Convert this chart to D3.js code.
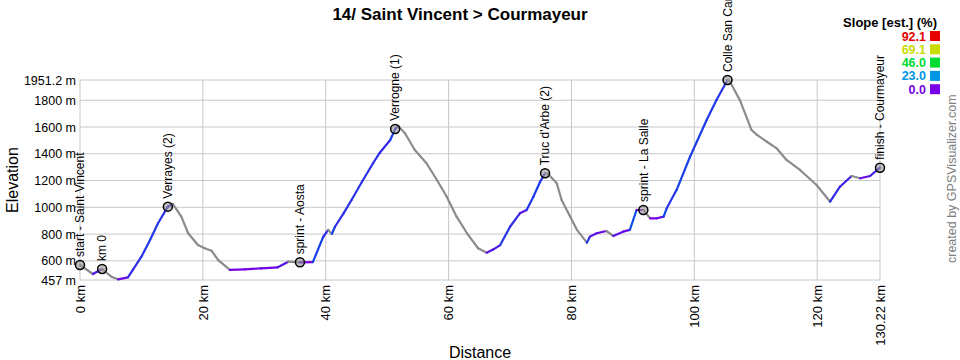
<!DOCTYPE html>
<html>
<head>
<meta charset="utf-8">
<script src="https://cdn.jsdelivr.net/npm/d3@7"></script>
<style>
  body { margin: 0; background: #fff; }
  svg { font-family: "Liberation Sans", Arial, sans-serif; }
</style>
</head>
<body>
<svg width="960" height="360"></svg>
<script>
// profile (km, m)
const distKm = [0, 2.1, 3.6, 5.1, 6.2, 7.8, 8.6, 10.0, 11.4, 12.7, 14.3, 15.1, 16.5, 17.6, 19.2, 20.3, 21.4, 22.5, 24.4, 26.8, 29.5, 32.2, 33.9, 35.8, 37.9, 39.6, 40.4, 41.0, 41.5, 42.9, 44.2, 45.9, 47.7, 48.8, 50.5, 51.3, 51.8, 52.9, 54.5, 56.4, 58.1, 59.7, 61.3, 63.0, 64.8, 66.2, 67.3, 68.4, 70.0, 71.6, 72.7, 73.8, 74.9, 75.7, 76.2, 77.6, 78.4, 79.8, 80.9, 82.5, 83.0, 84.1, 85.7, 86.8, 88.4, 89.5, 90.6, 91.7, 92.8, 93.9, 95.0, 95.5, 97.1, 99.3, 100.4, 102.0, 103.6, 105.4, 105.8, 107.4, 109.3, 110.2, 111.8, 113.4, 115.0, 117.2, 119.9, 122.1, 123.7, 125.6, 127.0, 128.6, 130.22];
const elevM = [569, 502, 539, 482, 462, 477, 532, 631, 756, 881, 1005, 1025, 930, 806, 718, 694, 676, 606, 532, 537, 544, 552, 594, 589, 591, 780, 831, 801, 855, 955, 1055, 1191, 1329, 1408, 1503, 1585, 1608, 1553, 1428, 1329, 1204, 1079, 930, 806, 694, 661, 686, 718, 855, 955, 980, 1079, 1191, 1254, 1249, 1179, 1055, 930, 831, 736, 781, 806, 823, 786, 818, 831, 980, 980, 918, 918, 930, 993, 1129, 1378, 1490, 1652, 1802, 1951.2, 1938, 1802, 1578, 1541, 1490, 1441, 1354, 1279, 1167, 1042, 1154, 1234, 1217, 1234, 1296];

const wpNames = ["start - Saint Vincent", "km 0", "Verrayes (2)", "sprint - Aosta", "Verrogne (1)", "Truc d'Arbe (2)", "sprint - La Salle", "Colle San Carlo", "finish - Courmayeur"];
const wpKm = [0, 3.6, 14.3, 35.8, 51.3, 75.7, 91.7, 105.4, 130.22];
const wpElev = [569, 539, 1005, 589, 1585, 1254, 980, 1951.2, 1296];

const yTicks = [457, 600, 800, 1000, 1200, 1400, 1600, 1800, 1951.2];
const xTicks = [0, 20, 40, 60, 80, 100, 120, 130.22];

const legendValues = ["92.1", "69.1", "46.0", "23.0", "0.0"];
const legendColors = ["#e60000", "#c8dc00", "#00dc32", "#0096e6", "#7800e6"];

const margin = {top: 80, left: 80},
      width = 800,
      height = 200;

const svg = d3.select("svg");
const g = svg.append("g").attr("transform", `translate(${margin.left},${margin.top})`);

const x = d3.scaleLinear().domain([0, 130.22]).range([0, width]);
const y = d3.scaleLinear().domain([457, 1951.2]).range([height, 0]);

// grid
g.selectAll(".hgrid").data(yTicks).enter().append("line")
    .attr("x1", 0).attr("x2", width)
    .attr("y1", d => y(d)).attr("y2", d => y(d))
    .style("stroke", "#c8c8c8").style("stroke-width", 1);

g.selectAll(".vgrid").data(xTicks).enter().append("line")
    .attr("x1", d => x(d)).attr("x2", d => x(d))
    .attr("y1", 0).attr("y2", height)
    .style("stroke", "#c8c8c8").style("stroke-width", 1);

// y labels
g.selectAll(".ylab").data(yTicks).enter().append("text")
    .attr("x", -4)
    .attr("y", d => y(d))
    .attr("dy", "0.36em")
    .attr("text-anchor", "end")
    .style("font-size", "12.5px")
    .text(d => d + " m");

// x labels (rotated)
g.selectAll(".xlab").data(xTicks).enter().append("text")
    .attr("transform", d => `translate(${x(d)},${height + 5}) rotate(-90)`)
    .attr("dy", "0.36em")
    .attr("text-anchor", "end")
    .style("font-size", "13px")
    .text(d => d + " km");

// profile, coloured by slope
const slopeColor = d3.scaleLinear().domain([0, 4, 10]).range(["#7800e6", "#4020e6", "#1e3ce8"]);
const segs = d3.range(distKm.length - 1).map(i => {
    const slope = (elevM[i + 1] - elevM[i]) / ((distKm[i + 1] - distKm[i]) * 1000) * 100;
    return {i, slope};
});

g.selectAll(".seg").data(segs).enter().append("line")
    .attr("x1", d => x(distKm[d.i])).attr("y1", d => y(elevM[d.i]))
    .attr("x2", d => x(distKm[d.i + 1])).attr("y2", d => y(elevM[d.i + 1]))
    .style("stroke", d => d.slope < 0 ? "#8c8c8c" : slopeColor(d.slope))
    .style("stroke-width", 2.2)
    .style("stroke-linecap", "round");

// waypoints
const wps = wpNames.map((n, i) => ({name: n, km: wpKm[i], elev: wpElev[i]}));

g.selectAll(".wp").data(wps).enter().append("circle")
    .attr("cx", d => x(d.km)).attr("cy", d => y(d.elev))
    .attr("r", 4.5)
    .style("fill", "rgba(150,150,150,0.6)")
    .style("stroke", "#000")
    .style("stroke-width", 1.5);

g.selectAll(".wplab").data(wps).enter().append("text")
    .attr("transform", d => `translate(${x(d.km)},${y(d.elev) - 8}) rotate(-90)`)
    .attr("dy", "0.36em")
    .style("font-size", "12px")
    .text(d => d.name);

// titles
svg.append("text")
    .attr("x", 460).attr("y", 20)
    .attr("text-anchor", "middle")
    .style("font-size", "17px").style("font-weight", "bold")
    .text("14/ Saint Vincent > Courmayeur");

svg.append("text")
    .attr("x", margin.left + width / 2).attr("y", 358)
    .attr("text-anchor", "middle")
    .style("font-size", "16px")
    .text("Distance");

svg.append("text")
    .attr("transform", "translate(18,180) rotate(-90)")
    .attr("text-anchor", "middle")
    .style("font-size", "16px")
    .text("Elevation");

// legend
svg.append("text")
    .attr("x", 937).attr("y", 27)
    .attr("text-anchor", "end")
    .style("font-size", "13px").style("font-weight", "bold")
    .text("Slope [est.] (%)");

const legend = svg.selectAll(".legend").data(legendValues).enter().append("g")
    .attr("transform", (d, i) => `translate(0,${36 + i * 13.3})`);

legend.append("rect")
    .attr("x", 930).attr("y", -5)
    .attr("width", 10).attr("height", 10)
    .style("fill", (d, i) => legendColors[i]);

legend.append("text")
    .attr("x", 926)
    .attr("dy", "0.36em")
    .attr("text-anchor", "end")
    .style("font-size", "12.5px").style("font-weight", "bold")
    .style("fill", (d, i) => legendColors[i])
    .text(d => d);

svg.append("text")
    .attr("transform", "translate(956,263) rotate(-90)")
    .style("font-size", "12.5px")
    .style("fill", "#808080")
    .text("created by GPSVisualizer.com");
</script>
</body>
</html>
